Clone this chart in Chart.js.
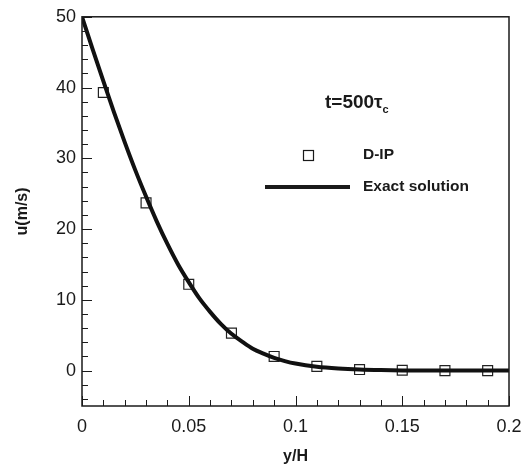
<!DOCTYPE html>
<html>
<head>
<meta charset="utf-8">
<script src="https://cdn.jsdelivr.net/npm/chart.js@4.4.1/dist/chart.umd.min.js"></script>
<style>
  html, body { margin: 0; padding: 0; background: #fff; }
  #wrap { width: 525px; height: 466px; }
</style>
</head>
<body>
<div id="wrap"><canvas id="chartPerfil"></canvas></div>
<script>
// D-IP results (squares)
const dipX = [0.01, 0.03, 0.05, 0.07, 0.09, 0.11, 0.13, 0.15, 0.17, 0.19];
const dipU = [39.3, 23.7, 12.2, 5.3, 2.0, 0.6, 0.15, 0.05, 0.0, 0.0];

// exact solution
const exactX = [0, 0.005, 0.01, 0.015, 0.02, 0.025, 0.03, 0.035, 0.04, 0.045, 0.05, 0.055, 0.06, 0.065, 0.07, 0.075, 0.08, 0.085, 0.09, 0.095, 0.1, 0.11, 0.12, 0.13, 0.14, 0.15, 0.16, 0.18, 0.2];
const exactU = [50, 45.4, 40.9, 36.5, 32.3, 28.3, 24.6, 21.1, 17.9, 15.0, 12.5, 10.2, 8.3, 6.6, 5.2, 4.1, 3.1, 2.4, 1.8, 1.35, 1.0, 0.55, 0.3, 0.15, 0.07, 0.03, 0.01, 0, 0];

const xTicks = [0, 0.05, 0.1, 0.15, 0.2];
const yTicks = [0, 10, 20, 30, 40, 50];
const xMinorStep = 0.01;
const yMinorStep = 2;

const fonte = '"Liberation Sans", Arial, sans-serif';
const cor = '#1a1a1a';

function toPts(xs, ys) {
    return xs.map((x, i) => ({ x: x, y: ys[i] }));
}

const moldura = {
    id: 'moldura',
    afterDatasetsDraw(chart) {
        const ctx = chart.ctx;
        const a = chart.chartArea;
        const sx = chart.scales.x, sy = chart.scales.y;
        ctx.save();
        ctx.strokeStyle = cor;
        ctx.lineWidth = 1.5;
        ctx.strokeRect(a.left, a.top, a.right - a.left, a.bottom - a.top);
        ctx.lineWidth = 1;
        // x ticks (inward)
        for (let v = 0; v <= 0.2 + 1e-9; v += xMinorStep) {
            const major = Math.abs(v / 0.05 - Math.round(v / 0.05)) < 1e-6;
            const px = Math.round(sx.getPixelForValue(v)) + 0.5;
            const len = major ? 10 : 6;
            ctx.beginPath();
            ctx.moveTo(px, a.bottom);
            ctx.lineTo(px, a.bottom - len);
            ctx.stroke();
        }
        // y ticks (inward)
        for (let v = -4; v <= 50; v += yMinorStep) {
            const major = v % 10 === 0;
            const py = Math.round(sy.getPixelForValue(v)) + 0.5;
            const len = major ? 10 : 6;
            ctx.beginPath();
            ctx.moveTo(a.left, py);
            ctx.lineTo(a.left + len, py);
            ctx.stroke();
        }
        // legend and label inside plot
        ctx.fillStyle = cor;
        ctx.textBaseline = 'alphabetic';
        ctx.font = 'bold 19px ' + fonte;
        ctx.fillText('t=500\u03c4', 325, 108);
        const w = ctx.measureText('t=500\u03c4').width;
        ctx.font = 'bold 11px ' + fonte;
        ctx.fillText('c', 325 + w, 113);

        ctx.lineWidth = 1.2;
        ctx.strokeRect(303.5, 150.5, 10, 10);
        ctx.lineWidth = 4;
        ctx.beginPath();
        ctx.moveTo(265, 187);
        ctx.lineTo(350, 187);
        ctx.stroke();
        ctx.font = 'bold 15.5px ' + fonte;
        ctx.textBaseline = 'middle';
        ctx.fillText('D-IP', 363, 155);
        ctx.fillText('Exact solution', 363, 187);
        ctx.restore();
    }
};

const canvas = document.getElementById('chartPerfil');
new Chart(canvas, {
    type: 'scatter',
    data: {
        datasets: [{
            label: 'D-IP',
            data: toPts(dipX, dipU),
            pointStyle: 'rect',
            pointRadius: 7,
            pointHoverRadius: 7,
            pointBorderWidth: 1.2,
            pointBorderColor: '#222',
            pointBackgroundColor: 'rgba(0,0,0,0)',
            showLine: false,
            order: 1
        }, {
            label: 'Exact solution',
            data: toPts(exactX, exactU),
            showLine: true,
            borderColor: '#111',
            borderWidth: 4,
            pointRadius: 0,
            tension: 0.3,
            cubicInterpolationMode: 'monotone',
            order: 0
        }]
    },
    options: {
        responsive: true,
        maintainAspectRatio: false,
        animation: false,
        layout: { padding: { top: 12, right: 16, left: 0, bottom: 0 } },
        plugins: {
            legend: { display: false },
            tooltip: { enabled: false }
        },
        scales: {
            x: {
                type: 'linear',
                min: 0,
                max: 0.2,
                afterBuildTicks: (s) => { s.ticks = xTicks.map(v => ({ value: v })); },
                afterFit: (s) => { s.height = 60; s.paddingLeft = 0; s.paddingRight = 0; },
                grid: { display: false, drawTicks: false },
                border: { display: false },
                ticks: {
                    color: cor,
                    padding: 10,
                    maxRotation: 0,
                    font: { family: fonte, size: 18 },
                    callback: (v) => String(v)
                },
                title: {
                    display: true,
                    text: 'y/H',
                    color: cor,
                    padding: { top: 4, bottom: 0 },
                    font: { family: fonte, size: 16, weight: 'bold' }
                }
            },
            y: {
                type: 'linear',
                min: -5,
                max: 50,
                afterBuildTicks: (s) => { s.ticks = yTicks.map(v => ({ value: v })); },
                afterFit: (s) => { s.width = 82; },
                grid: { display: false, drawTicks: false },
                border: { display: false },
                ticks: {
                    color: cor,
                    padding: 6,
                    font: { family: fonte, size: 18 },
                    callback: (v) => String(v)
                },
                title: {
                    display: true,
                    text: 'u(m/s)',
                    color: cor,
                    padding: { top: 13, bottom: 0 },
                    font: { family: fonte, size: 16, weight: 'bold' }
                }
            }
        }
    },
    plugins: [moldura]
});
</script>
</body>
</html>
